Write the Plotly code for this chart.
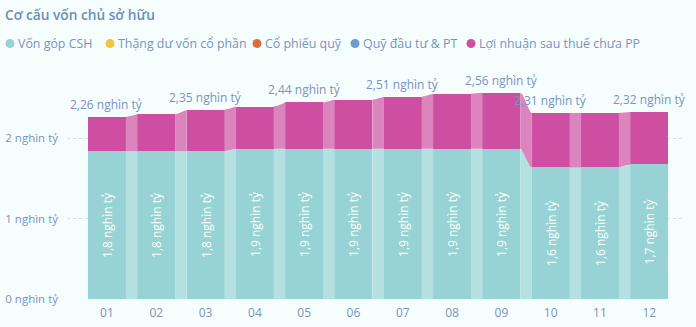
import numpy as np
import plotly.graph_objects as go

# ---------------- data ----------------
months = ["01", "02", "03", "04", "05", "06", "07", "08", "09", "10", "11", "12"]
von_gop_csh = [1.834, 1.834, 1.834, 1.867, 1.867, 1.867, 1.867, 1.867, 1.867, 1.635, 1.635, 1.672]
thang_du_von = [0, 0, 0, 0, 0, 0, 0, 0, 0, 0, 0, 0]
co_phieu_quy = [0, 0, 0, 0, 0, 0, 0, 0, 0, 0, 0, 0]
quy_dau_tu = [0, 0, 0, 0, 0, 0, 0, 0, 0, 0, 0, 0]
loi_nhuan_chua_pp = [0.428, 0.461, 0.518, 0.523, 0.575, 0.608, 0.645, 0.683, 0.695, 0.677, 0.675, 0.650]
total_label_idx = [0, 2, 4, 6, 8, 9, 11]  # bars whose total label is shown
y_ticks = [0, 1, 2]
y_tick_text = ["0 nghìn tỷ", "1 nghìn tỷ", "2 nghìn tỷ"]

names = ["Vốn góp CSH", "Thặng dư vốn cổ phần", "Cổ phiếu quỹ", "Quỹ đầu tư & PT", "Lợi nhuận sau thuế chưa PP"]
values = [von_gop_csh, thang_du_von, co_phieu_quy, quy_dau_tu, loi_nhuan_chua_pp]
colors = ["#97D2D4", "#F2C440", "#DE6B3E", "#6E9BD0", "#CE4FA1"]
ribbon_colors = ["#B4E0E1", "#F7DC8E", "#EBA588", "#A8C3E3", "#DB84BE"]

# ---------------- layout constants ----------------
W, H = 696, 327
ML, MR, MT, MB = 67, 13, 90, 28
PW, PH = W - ML - MR, H - MT - MB
XR = [-0.811, 11.684]
YR = [0, PH / 80.5]
BW = 0.771
FONT = "Open Sans"
LABEL_C = "#7A93BC"
BG = "#F6FDFD"


def pxx(px):
    return (px - ML) / PW


def pxy(py):
    return (H - MB - py) / PH


fig = go.Figure()
x = np.arange(len(months))

# ribbons (gaps between bars)
cum = np.zeros(len(months))
t = np.linspace(0, 1, 30)
s = t * t * (3 - 2 * t)
for vals, rc in zip(values, ribbon_colors):
    v = np.array(vals, dtype=float)
    lo, hi = cum.copy(), cum + v
    for i in range(len(months) - 1):
        if v[i] <= 0 and v[i + 1] <= 0:
            continue
        xa, xb = i + BW / 2 - 0.004, i + 1 - BW / 2 + 0.004
        xs = xa + (xb - xa) * t
        top = hi[i] + (hi[i + 1] - hi[i]) * s
        bot = lo[i] + (lo[i + 1] - lo[i]) * s
        fig.add_trace(go.Scatter(
            x=np.concatenate([xs, xs[::-1]]), y=np.concatenate([top, bot[::-1]]),
            fill="toself", fillcolor=rc, mode="lines", line=dict(width=0),
            hoverinfo="skip", showlegend=False))
    cum = hi

# bars
for k, (nm, vals, c) in enumerate(zip(names, values, colors)):
    kw = {}
    if k == 0:
        kw = dict(text=[f"{v:.1f}".replace(".", ",") + " nghìn tỷ" for v in vals],
                  textposition="inside", insidetextanchor="middle", textangle=-90,
                  textfont=dict(color="white", size=12, family=FONT))
    fig.add_trace(go.Bar(x=x, y=vals, name=nm, width=BW, marker=dict(color=c, line=dict(width=0)),
                         showlegend=False, **kw))

totals = np.sum(np.array(values, dtype=float), axis=0)
annotations = []
for i in total_label_idx:
    annotations.append(dict(x=x[i], y=totals[i], xref="x", yref="y", yanchor="bottom", yshift=2,
                            text=f"{totals[i]:.2f}".replace(".", ",") + " nghìn tỷ", showarrow=False,
                            font=dict(size=12, color=LABEL_C, family=FONT)))

# title
annotations.append(dict(x=pxx(3), y=pxy(14), xref="paper", yref="paper", xanchor="left", yanchor="middle",
                        text="Cơ cấu vốn chủ sở hữu", showarrow=False,
                        font=dict(size=13.7, color="#6F8DB8", family=FONT, weight=600)))

# custom legend
leg_circle_px = [10, 110, 257, 355, 471]
leg_text_px = [16, 116, 263, 361, 477]
shapes = []
for nm, c, cx, tx in zip(names, colors, leg_circle_px, leg_text_px):
    shapes.append(dict(type="circle", xref="paper", yref="paper", xsizemode="pixel", ysizemode="pixel",
                       xanchor=pxx(cx), yanchor=pxy(43.5), x0=-4.5, x1=4.5, y0=-4.5, y1=4.5,
                       fillcolor=c, line=dict(width=0)))
    annotations.append(dict(x=pxx(tx), y=pxy(44), xref="paper", yref="paper", xanchor="left",
                            yanchor="middle", text=nm, showarrow=False,
                            font=dict(size=12.4, color=LABEL_C, family=FONT)))

fig.update_layout(
    width=W, height=H, margin=dict(l=ML, r=MR, t=MT, b=MB, autoexpand=False),
    paper_bgcolor=BG, plot_bgcolor=BG, barmode="stack", bargap=0,
    font=dict(family=FONT, color=LABEL_C, size=12),
    showlegend=False, annotations=annotations, shapes=shapes,
    uniformtext=dict(mode=False),
    xaxis=dict(range=XR, tickvals=list(x), ticktext=months, showgrid=False, zeroline=False,
               showline=False, ticks="", automargin=False, ticklabelstandoff=5,
               tickfont=dict(size=12, color=LABEL_C)),
    yaxis=dict(range=YR, tickvals=y_ticks, ticktext=y_tick_text, showgrid=True, gridcolor="#D3DEE4",
               griddash="dot", gridwidth=1, zeroline=False, showline=False, ticks="", automargin=False,
               ticklabelstandoff=8, tickfont=dict(size=11.5, color=LABEL_C)),
)

fig.write_html("out.html")
